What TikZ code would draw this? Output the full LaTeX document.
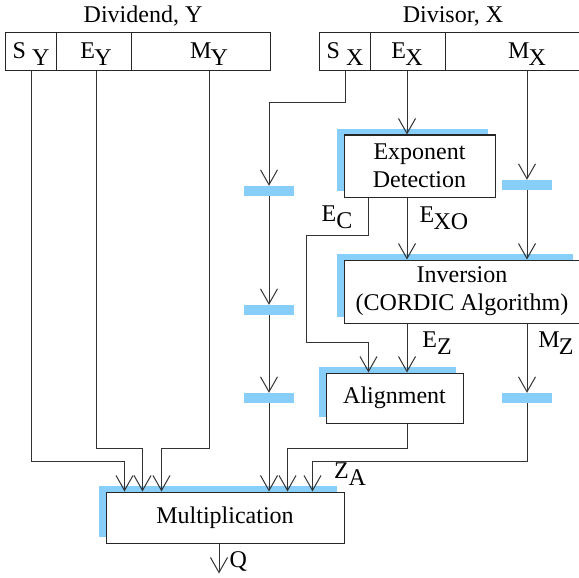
\documentclass[tikz,border=0pt]{standalone}
\usepackage{fontspec}
\setmainfont{Liberation Serif}
\usetikzlibrary{arrows.meta, positioning, shadows}

\definecolor{regblue}{RGB}{135,206,250}
\newcommand{\lowsub}[1]{\raisebox{-0.28em}{#1}}

\begin{document}
\begin{tikzpicture}[
    x=1pt, y=-1pt,
    font=\fontsize{24}{28}\selectfont,
    field/.style={rectangle, draw=black!85, line width=1pt, minimum height=38pt, inner sep=0pt, outer sep=0pt},
    block/.style={rectangle, draw=black!85, fill=white, line width=1pt, align=center, inner sep=0pt, drop shadow={shadow xshift=-7pt, shadow yshift=6pt, fill=regblue, opacity=1}},
    reg/.style={rectangle, fill=regblue, minimum width=50pt, minimum height=10pt, inner sep=0pt},
    lbl/.style={inner sep=0pt},
    arr/.style={-{Straight Barb[length=15pt, width=17pt, line width=1pt]}, line width=1pt, draw=black!80}
]
\useasboundingbox (0,0) rectangle (579,578);

% Dividend fields
\node[lbl] (ytitle) at (143,16) {Dividend, Y};
\node[field, minimum width=51pt] (sy) at (30.5,52) {};
\node[field, minimum width=75pt, right=0pt of sy] (ey) {};
\node[field, minimum width=139pt, right=0pt of ey] (my) {};
\node[lbl] (sylbl) at (31,54) {S\ \lowsub{Y}};
\node[lbl] (eylbl) at (96,54) {E\kern-0.03em\lowsub{Y}};
\node[lbl] (mylbl) at (209,54) {M\kern-0.03em\lowsub{Y}};

% Divisor fields
\node[lbl] (xtitle) at (453,16) {Divisor, X};
\node[field, minimum width=51pt] (sx) at (344.5,52) {};
\node[field, minimum width=75pt, right=0pt of sx] (ex) {};
\node[field, minimum width=145pt, right=0pt of ex] (mx) {};
\node[lbl] (sxlbl) at (345,54) {S\ \lowsub{X}};
\node[lbl] (exlbl) at (407,54) {E\kern-0.03em\lowsub{X}};
\node[lbl] (mxlbl) at (527,54) {M\kern-0.03em\lowsub{X}};

% Blocks
\node[block, minimum width=151pt, minimum height=62pt] (expdet) at (419.5,166) {Exponent\\Detection};
\node[block, minimum width=236pt, minimum height=63pt] (inv) at (462,291.5) {Inversion\\(CORDIC Algorithm)};
\node[block, minimum width=137pt, minimum height=50pt] (align) at (394.5,398) {Alignment};
\node[block, minimum width=238pt, minimum height=51pt] (mult) at (225,517.5) {Multiplication};

% Pipeline registers
\node[reg] (reg1) at (269,191) {};
\node[reg] (reg2) at (269,310) {};
\node[reg] (reg3) at (269,398) {};
\node[reg] (reg4) at (527,185) {};
\node[reg] (reg5) at (527,398) {};

% Inputs of the multiplier
\coordinate (in1) at ([xshift=19pt]mult.north west);
\coordinate (in2) at ([xshift=37pt]mult.north west);
\coordinate (in3) at ([xshift=56pt]mult.north west);
\coordinate (in5) at ([xshift=182pt]mult.north west);
\coordinate (in6) at ([xshift=207pt]mult.north west);

% Dividend paths
\draw[arr] (sylbl |- sy.south) -- ++(0,390) -| (in1);
\draw[arr] (eylbl |- ey.south) -- ++(0,377) -| (in2);
\draw[arr] (mylbl |- my.south) -- ++(0,377) -| (in3);

% Sign of divisor
\draw[arr] (sxlbl |- sx.south) -- ++(0,32) -| (reg1.north);
\draw[arr] (reg1.south) -- (reg2.north);
\draw[arr] (reg2.south) -- (reg3.north);
\draw[arr] (reg3.south) -- (reg3.south |- mult.north);

% Exponent and mantissa of divisor
\draw[arr] (exlbl |- ex.south) -- (exlbl |- expdet.north);
\draw[arr] (mxlbl |- mx.south) -- (reg4.north);
\draw[arr] (reg4.south) -- (reg4.south |- inv.north);
\draw[arr] ([xshift=25pt]expdet.south west) -- ++(0,38) -- ++(-62,0) -- ++(0,107) -| ([xshift=43pt]align.north west);
\draw[arr] (exlbl |- expdet.south) -- (exlbl |- inv.north);
\draw[arr] (exlbl |- inv.south) -- (exlbl |- align.north);
\draw[arr] (reg4 |- inv.south) -- (reg5.north);
\draw[arr] (reg5.south) -- ++(0,58) -| (in6);
\draw[arr] (exlbl |- align.south) -- ++(0,25) -| (in5);

% Result
\draw[arr] ([xshift=-6pt]mult.south) -- ++(0,30) node[lbl, pos=0.6, right=10pt] (qlbl) {Q};

% Signal names
\node[lbl] (eclbl) at (337,217) {E\lowsub{C}};
\node[lbl] (exolbl) at (444,218) {E\kern-0.03em\lowsub{XO}};
\node[lbl] (ezlbl) at (437,343) {E\lowsub{Z}};
\node[lbl] (mzlbl) at (556,343) {M\kern-0.03em\lowsub{Z}};
\node[lbl] (zalbl) at (350,474) {Z\lowsub{A}};

\end{tikzpicture}
\end{document}
